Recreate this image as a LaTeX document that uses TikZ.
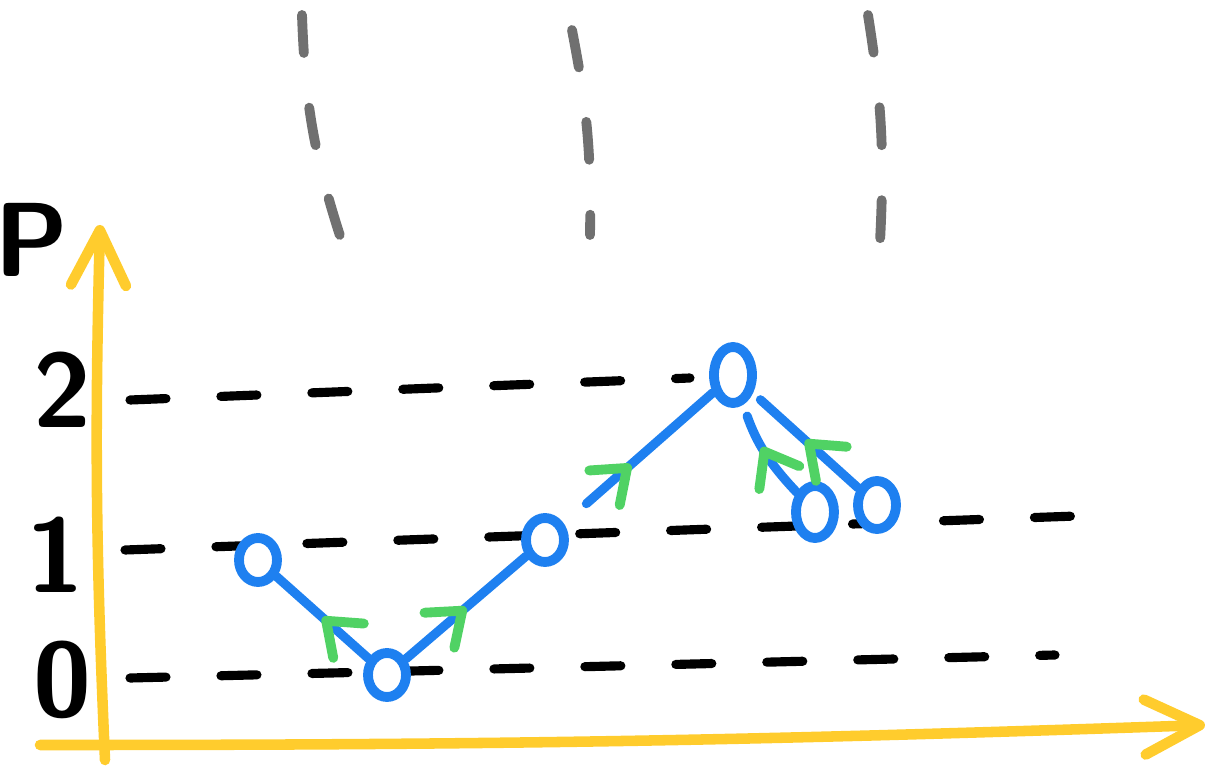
\documentclass[tikz,border=0pt]{standalone}
\usepackage{tikz}
\usetikzlibrary{arrows.meta,shapes.geometric,decorations.markings}

\definecolor{penblue}{RGB}{30,128,240}
\definecolor{pengreen}{RGB}{80,210,100}
\definecolor{penyellow}{RGB}{255,204,45}
\definecolor{pengray}{RGB}{112,112,112}

\tikzset{
  state/.style={ellipse,draw=penblue,line width=2.8pt,fill=white,
    minimum width=0.38cm,minimum height=0.44cm,inner sep=0pt},
  move/.style={draw=penblue,line width=2.6pt,line cap=round,
    postaction={decorate},
    decoration={markings,mark=at position #1 with
      {\arrow[pengreen,line width=2.8pt]{Straight Barb[length=3mm,width=4.6mm,round]}}}},
  move/.default=0.5,
  level/.style={line width=2.6pt,line cap=round,dash pattern=on 0.36cm off 0.55cm},
  guide/.style={pengray,line width=2.8pt,line cap=round,dash pattern=on 0.38cm off 0.55cm},
  axis/.style={penyellow,line width=3pt,line cap=round,
    -{Straight Barb[length=5.5mm,width=5.5mm,line width=3pt,round]}},
  lbl/.style={font=\fontsize{30}{30}\selectfont\sffamily\bfseries,inner sep=0pt}
}

\begin{document}
\begin{tikzpicture}
  \useasboundingbox (0,0) rectangle (12.11,7.70);

  % vertical guides at the top
  \draw[guide] (3.02,7.55) to[bend right=8] (3.42,5.28);
  \draw[guide] (5.72,7.40) to[bend left=6] (5.90,5.35);
  \draw[guide] (8.68,7.55) to[bend left=6] (8.80,5.28);

  % axes
  \draw[axis] (1.05,0.10) to[bend left=2] (1.00,5.45);
  \draw[axis] (0.40,0.25) to[bend right=1] (12.05,0.45);

  % axis labels
  \node[lbl] (p) at (0.32,5.30) {P};
  \node[lbl] (l2) at (0.62,3.80) {2};
  \node[lbl] (l1) at (0.55,2.15) {1};
  \node[lbl] (l0) at (0.62,0.90) {0};

  % levels
  \draw[level] (1.30,3.70) -- (6.90,3.92);
  \draw[level] (1.25,2.20) -- (11.05,2.55);
  \draw[level] (1.30,0.92) -- (10.55,1.15);

  % states
  \node[state] (a) at (2.58,2.10) {};
  \node[state] (b) at (3.87,0.95) {};
  \node[state] (c) at (5.45,2.30) {};
  \node[state,minimum height=0.56cm] (d) at (7.33,3.95) {};
  \node[state,minimum height=0.52cm] (e) at (8.15,2.58) {};
  \node[state,minimum height=0.48cm] (f) at (8.77,2.65) {};

  % transitions
  \draw[move] (b) -- (a);
  \draw[move] (b) -- (c);
  \draw[move=0.45,shorten <=0.3cm] (c) -- (d);
  \draw[move=0.55,shorten >=0.12cm] (e) to[bend left=12] (d);
  \draw[move=0.5,shorten >=0.1cm] (f) -- (d);
\end{tikzpicture}
\end{document}
